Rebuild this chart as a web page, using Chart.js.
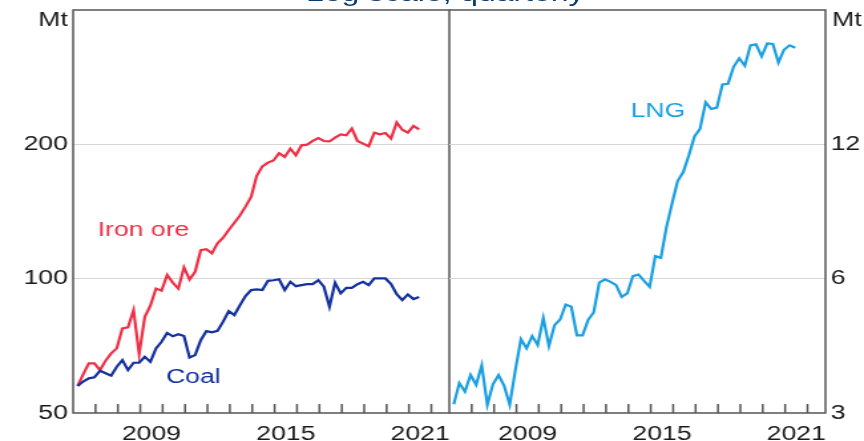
<!DOCTYPE html>
<html>
<head>
<meta charset="utf-8">
<title>Resource export volumes</title>
<script src="https://cdn.jsdelivr.net/npm/chart.js@4.4.1/dist/chart.umd.min.js"></script>
<style>
	html, body { margin: 0; padding: 0; background: #fff; overflow: hidden; }
	/* the original picture is stretched sideways, so the whole page is too */
	#page { position: absolute; left: 0; top: 0; width: 650px; height: 441px; transform: scaleX(1.3292); transform-origin: 0 0; }
	#left { position: absolute; left: 0; top: 0; }
	#right { position: absolute; left: 338px; top: 0; }
	#title { position: absolute; top: -19px; left: 0; width: 670px; text-align: center; font: 24px "Liberation Sans", Arial, sans-serif; line-height: 24px; color: #0c3b6e; white-space: nowrap; }
</style>
</head>
<body>
<div id="page">
	<div id="title">Log scale, quarterly</div>
	<canvas id="left" width="340" height="441"></canvas>
	<canvas id="right" width="313" height="441"></canvas>
</div>
<script>
// Quarterly export volumes (Mt), 2006 Q1 to 2021 Q2
var firstYear = 2006;
var ironOre = [57.5, 61, 64.6, 64.6, 62.4, 65.5, 68, 69.8, 77.4, 77.8,
	85, 67.7, 82, 87, 95, 94, 102, 98, 95, 106,
	99.6, 103.6, 115.8, 116.4, 114, 120, 123.5, 128.5, 133.5, 138.5,
	145, 152.5, 170, 178.5, 182, 184, 191, 187.4, 195.6, 189,
	199, 199.7, 203.5, 206.6, 203.5, 203, 207, 210.6, 209.6, 217,
	203.5, 200.7, 198, 212.4, 210.6, 212, 206, 224, 215.7, 212.4,
	220, 216];
var coal = [57.5, 58.8, 59.8, 60.1, 62.2, 61.4, 60.6, 63.5, 65.7, 62.4,
	64.8, 64.8, 66.8, 65.1, 69.8, 72.2, 75.6, 74.3, 75.1, 74.4,
	66.6, 67.4, 72.8, 76.3, 75.8, 76.4, 80.1, 84.6, 82.9, 87.2,
	91.4, 94.3, 94.6, 94.3, 98.9, 99.2, 99.7, 94.3, 98.4, 96.2,
	96.7, 97.2, 97.2, 99.2, 95.9, 86.5, 97.9, 92.7, 95.4, 95.4,
	97.2, 98.4, 96.7, 100.1, 100.1, 100.1, 97.2, 92.3, 89.5, 92.2,
	90, 91];
var lng = [3.14, 3.5, 3.35, 3.65, 3.47, 3.84, 3.13, 3.48, 3.65, 3.45,
	3.13, 3.74, 4.39, 4.19, 4.46, 4.26, 4.9, 4.24, 4.72, 4.86,
	5.25, 5.19, 4.48, 4.48, 4.85, 5.04, 5.88, 5.98, 5.9, 5.8,
	5.46, 5.56, 6.08, 6.13, 5.93, 5.75, 6.74, 6.68, 7.84, 8.84,
	9.93, 10.4, 11.34, 12.5, 13, 14.9, 14.4, 14.5, 16.35, 16.4,
	17.9, 18.7, 18, 20, 20.1, 18.9, 20.2, 20.15, 18.3, 19.55,
	20, 19.75];

// Quarter labels, "2006 Q1" onwards
var quarters = ironOre.map(function (v, i) {
	return (firstYear + Math.floor(i / 4)) + " Q" + (i % 4 + 1);
});

var yearLabels = [2009, 2015, 2021];
var leftTicks = [50, 100, 200];
var rightTicks = [3, 6, 12];

var text_color = "#1a1a1a";
var frame_color = "#555555";
var grid_color = "#d6d6d6";
var iron_color = "#ee2f45";
var coal_color = "#13309c";
var lng_color = "#1a9fe0";

Chart.defaults.font.family = '"Liberation Sans", Arial, sans-serif';
Chart.defaults.font.size = 20;
Chart.defaults.color = text_color;

// Quarters sit a little before the middle of each quarter on the time axis
function quarterPosition(label) {
	var parts = label.split(" Q");
	return Number(parts[0]) + (Number(parts[1]) - 1) / 4 + 0.2;
}

function points(values) {
	return values.map(function (v, i) {
		return { x: quarterPosition(quarters[i]), y: v };
	});
}

// Frame, inward year ticks, series names and the unit label
var panelDecor = {
	id: "panelDecor",
	afterDatasetsDraw: function (chart, args, opts) {
		var ctx = chart.ctx;
		var area = chart.chartArea;
		var xs = chart.scales.x;
		var ys = chart.scales.y;
		ctx.save();
		ctx.strokeStyle = frame_color;
		ctx.lineWidth = 1.5;
		ctx.beginPath();
		for (var yr = firstYear + 1; yr <= 2022; yr++) {
			var px = xs.getPixelForValue(yr);
			ctx.moveTo(px, area.bottom);
			ctx.lineTo(px, area.bottom - 9);
		}
		ctx.stroke();

		ctx.beginPath();
		ctx.moveTo(area.left, area.top);
		ctx.lineTo(area.right, area.top);
		ctx.lineTo(area.right, area.bottom);
		ctx.lineTo(area.left, area.bottom);
		if (opts.side === "left") ctx.closePath();
		ctx.stroke();

		ctx.font = '20px "Liberation Sans", Arial, sans-serif';
		ctx.textBaseline = "middle";
		opts.notes.forEach(function (n) {
			ctx.fillStyle = n.color;
			ctx.textAlign = "left";
			ctx.fillText(n.text, xs.getPixelForValue(n.x), ys.getPixelForValue(n.y));
		});

		ctx.fillStyle = text_color;
		if (opts.side === "left") {
			ctx.textAlign = "right";
			ctx.fillText("Mt", area.left - 4, area.top + 10);
		} else {
			ctx.textAlign = "left";
			ctx.fillText("Mt", area.right + 5, area.top + 10);
		}
		ctx.restore();
	}
};

function makeChart(id, datasets, yMin, yMax, yTicks, side, notes) {
	return new Chart(document.getElementById(id), {
		type: "line",
		data: { datasets: datasets },
		options: {
			responsive: false,
			animation: false,
			layout: { padding: { top: 10, right: side === "left" ? 2 : 0, left: 0, bottom: 0 } },
			elements: {
				point: { radius: 0 },
				line: { borderWidth: 2.2, tension: 0 }
			},
			plugins: {
				legend: { display: false },
				tooltip: { enabled: false },
				panelDecor: { side: side, notes: notes }
			},
			scales: {
				x: {
					type: "linear",
					min: firstYear,
					max: 2022.8,
					afterBuildTicks: function (s) {
						s.ticks = yearLabels.map(function (y) { return { value: y + 0.5 }; });
					},
					afterFit: function (s) {
						s.height = 28;
						s.paddingLeft = 0;
						s.paddingRight = 0;
					},
					ticks: {
						autoSkip: false,
						maxRotation: 0,
						padding: 1,
						callback: function (v) { return String(Math.floor(v)); }
					},
					grid: { display: false },
					border: { display: false }
				},
				y: {
					type: "logarithmic",
					position: side,
					min: yMin,
					max: yMax,
					afterBuildTicks: function (s) {
						s.ticks = yTicks.map(function (v) { return { value: v }; });
					},
					afterFit: function (s) {
						s.width = side === "left" ? 55 : 30;
						s.paddingTop = 0;
						s.paddingBottom = 0;
					},
					ticks: {
						padding: 4,
						callback: function (v) { return String(v); }
					},
					grid: {
						drawTicks: false,
						color: function (c) {
							return c.tick && c.tick.value === yMin ? "rgba(0,0,0,0)" : grid_color;
						}
					},
					border: { display: false }
				}
			}
		},
		plugins: [panelDecor]
	});
}

var leftChart = makeChart("left", [
	{ label: "Coal", data: points(coal), borderColor: coal_color },
	{ label: "Iron ore", data: points(ironOre), borderColor: iron_color }
], 50, 400, leftTicks, "left", [
	{ text: "Iron ore", color: iron_color, x: 2007.1, y: 128 },
	{ text: "Coal", color: coal_color, x: 2010.15, y: 60 }
]);

var rightChart = makeChart("right", [
	{ label: "LNG", data: points(lng), borderColor: lng_color }
], 3, 24, rightTicks, "right", [
	{ text: "LNG", color: lng_color, x: 2014.1, y: 14.2 }
]);
</script>
</body>
</html>
